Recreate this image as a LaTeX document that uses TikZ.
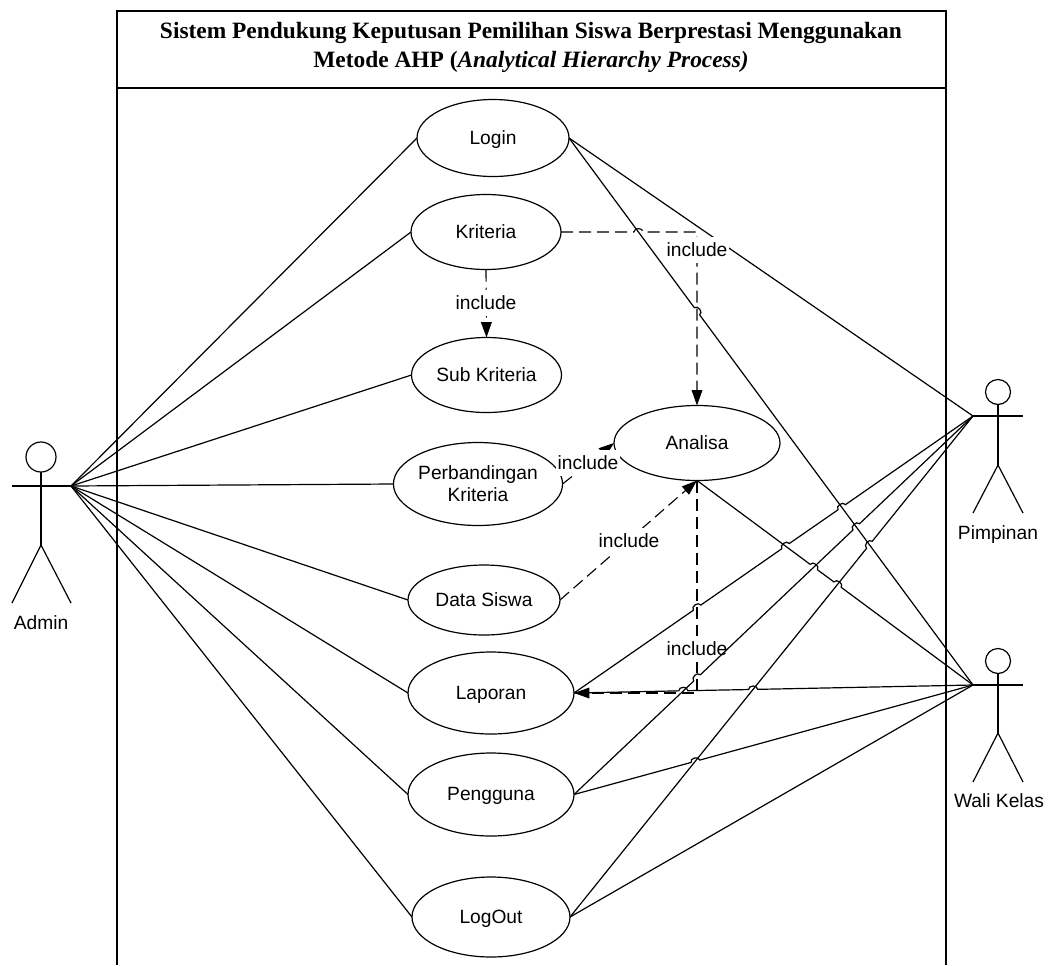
\documentclass[tikz,border=0pt]{standalone}
\usepackage{fontspec}
\setmainfont{Liberation Serif}
\newfontfamily\labelfont{Liberation Sans}
\usetikzlibrary{shapes.geometric,arrows.meta,calc}
\tikzset{
  usecase/.style 2 args={ellipse,draw,line width=0.9pt,inner sep=0pt,outer sep=0pt,
    minimum width=#1*0.75pt,minimum height=#2*0.75pt,align=center,
    font=\labelfont\fontsize{14.4}{16.5}\selectfont},
  oneline/.style={text height=10.4pt,text depth=1pt},
  assoc/.style={line width=0.9pt},
  incl/.style={line width=0.85pt,dash pattern=on 9pt off 4.5pt},
  inclarrow/.style={incl,-{Triangle[length=11.5pt,width=8pt]}},
  lab/.style={fill=white,inner sep=0pt,minimum width=48pt,minimum height=19.5pt,font=\labelfont\fontsize{14.4}{16.5}\selectfont},
  actorname/.style={inner sep=0pt,anchor=base,font=\labelfont\fontsize{14.4}{16.5}\selectfont},
  head/.style={circle,draw,line width=0.9pt,inner sep=0pt,outer sep=0pt},
  frame/.style={line width=0.9pt},
  hopcurve/.style={bend left=90,looseness=1.3}
}
% crossing point of lines a--b and c--d
\newcommand\xing[5]{\coordinate (#1) at (intersection cs:first line={(#2)--(#3)},second line={(#4)--(#5)});}
% a small bridge over crossing #1 on the way from #2 to #3
\newcommand\hop[3]{-- ($(#1)!3.4pt!(#2)$) to[hopcurve] ($(#1)!3.4pt!(#3)$)}
\begin{document}
\begin{tikzpicture}[x=0.75pt,y=-0.75pt]
\useasboundingbox (0,0) rectangle (1050,965);
% system frame
\draw[frame] (117,965) -- (117,11) -- (946,11) -- (946,965);
\draw[frame] (117,88) -- (946,88);
\node[inner sep=0pt,align=center,font=\bfseries\fontsize{17.55}{21.8}\selectfont] (title) at (531,47)
  {Sistem Pendukung Keputusan Pemilihan Siswa Berprestasi Menggunakan\\Metode AHP (\textit{Analytical Hierarchy Process)}};
% use cases
\node[usecase={152}{77},oneline]  (login)  at (493,138)   {Login};
\node[usecase={150}{75},oneline]  (krit)   at (486,232)   {Kriteria};
\node[usecase={150}{75},oneline]  (sub)    at (486.5,375) {Sub Kriteria};
\node[usecase={166}{75},oneline]  (analisa) at (697,443) {Analisa};
\node[usecase={166}{83}]  (banding) at (478,484) {Perbandingan\\Kriteria};
\node[usecase={152}{70},oneline]  (siswa)  at (484,600)   {Data Siswa};
\node[usecase={166}{82},oneline]  (laporan) at (491,693)  {Laporan};
\node[usecase={166}{83},oneline]  (pengguna) at (491,794.5) {Pengguna};
\node[usecase={158}{80},oneline]  (logout) at (491,917)   {LogOut};
% actors
\node[head,minimum size=30*0.75pt] (adminhead) at (41,457) {};
\coordinate (adminhand) at (71,486);
\coordinate (adminarm) at (12,486);
\coordinate (adminhip) at (41,545);
\coordinate (adminlegl) at (12,603);
\coordinate (adminlegr) at (71,603);
\draw[assoc] (adminarm) -- (adminhand);
\draw[assoc] (adminhead.south) -- (adminhip);
\draw[assoc] (adminlegl) -- (adminhip) -- (adminlegr);
\node[actorname] (adminname) at (41,629) {Admin};

\node[head,minimum size=25*0.75pt] (pimphead) at (998,392) {};
\coordinate (pimphand) at (973,416);
\coordinate (pimparm) at (1023,416);
\coordinate (pimphip) at (998,465);
\coordinate (pimplegl) at (973,513);
\coordinate (pimplegr) at (1023,513);
\draw[assoc] (pimphand) -- (pimparm);
\draw[assoc] (pimphead.south) -- (pimphip);
\draw[assoc] (pimplegl) -- (pimphip) -- (pimplegr);
\node[actorname] (pimpname) at (998,539) {Pimpinan};

\node[head,minimum size=25*0.75pt] (walihead) at (998,661) {};
\coordinate (walihand) at (973,685);
\coordinate (waliarm) at (1023,685);
\coordinate (walihip) at (998,733);
\coordinate (walilegl) at (973,782);
\coordinate (walilegr) at (1023,782);
\draw[assoc] (walihand) -- (waliarm);
\draw[assoc] (walihead.south) -- (walihip);
\draw[assoc] (walilegl) -- (walihip) -- (walilegr);
\node[actorname] (waliname) at (999,807) {Wali Kelas};
% admin associations
\foreach \u in {login,krit,sub,banding,siswa,laporan,pengguna,logout}
  \draw[assoc] (adminhand) -- (\u.west);
% crossings
\coordinate (kcorner) at (analisa.north |- krit.east);
\coordinate (vcorner) at (analisa.south |- laporan.east);
\xing{xa}{krit.east}{kcorner}{login.east}{walihand}
\xing{xb}{login.east}{walihand}{analisa.north}{analisa.south}
\xing{xc}{laporan.east}{pimphand}{analisa.south}{vcorner}
\xing{xd}{laporan.east}{pimphand}{analisa.south}{walihand}
\xing{xe}{laporan.east}{pimphand}{login.east}{walihand}
\xing{xf}{pengguna.east}{pimphand}{analisa.south}{vcorner}
\xing{xg}{pengguna.east}{pimphand}{login.east}{walihand}
\xing{xh}{logout.east}{pimphand}{login.east}{walihand}
\xing{xi}{analisa.south}{walihand}{pengguna.east}{pimphand}
\xing{xj}{analisa.south}{walihand}{logout.east}{pimphand}
\xing{xk}{laporan.east}{walihand}{pengguna.east}{pimphand}
\xing{xl}{laporan.east}{walihand}{logout.east}{pimphand}
\xing{xm}{pengguna.east}{walihand}{logout.east}{pimphand}
% solid lines partly hidden by the labels
\draw[assoc] (login.east) -- (pimphand);
% include connectors
\draw[inclarrow] (krit.south) -- (sub.north);
\draw[inclarrow] (krit.east) \hop{xa}{krit.east}{kcorner} -- (kcorner) -- (analisa.north);
\draw[inclarrow] (banding.east) -- (analisa.west);
\draw[inclarrow] (siswa.east) -- (analisa.south);
\draw[inclarrow] (analisa.south) -- (vcorner) -- (laporan.east);
\node[lab] (l1) at (486,303) {include};
\node[lab] (l2) at (697,250) {include};
\node[lab] (l3) at (588,463) {include};
\node[lab] (l4) at (629,541) {include};
\node[lab] (l5) at (697,649) {include};
% remaining associations
\draw[assoc] (login.east) \hop{xb}{login.east}{walihand} -- (walihand);
\draw[assoc] (analisa.south) \hop{xi}{analisa.south}{walihand} \hop{xj}{analisa.south}{walihand} -- (walihand);
\draw[assoc] (laporan.east) \hop{xc}{laporan.east}{pimphand} \hop{xd}{laporan.east}{pimphand} \hop{xe}{laporan.east}{pimphand} -- (pimphand);
\draw[assoc] (laporan.east) \hop{xk}{laporan.east}{walihand} \hop{xl}{laporan.east}{walihand} -- (walihand);
\draw[assoc] (pengguna.east) \hop{xf}{pengguna.east}{pimphand} \hop{xg}{pengguna.east}{pimphand} -- (pimphand);
\draw[assoc] (pengguna.east) \hop{xm}{pengguna.east}{walihand} -- (walihand);
\draw[assoc] (logout.east) \hop{xh}{logout.east}{pimphand} -- (pimphand);
\draw[assoc] (logout.east) -- (walihand);
\end{tikzpicture}
\end{document}
